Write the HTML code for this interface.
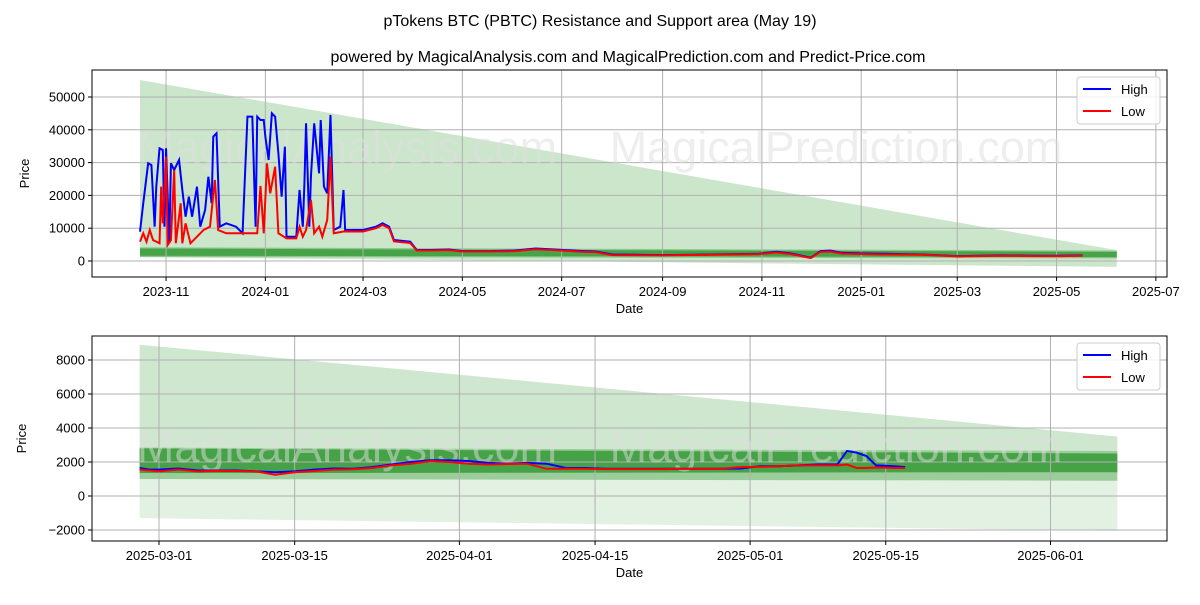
<!DOCTYPE html>
<html><head><meta charset="utf-8"><style>
body{margin:0;background:#fff;}
svg text{font-family:"Liberation Sans","DejaVu Sans",sans-serif;}
</style></head><body>
<svg id="c" width="1200" height="600" xmlns="http://www.w3.org/2000/svg">
<text x="600" y="26" font-size="16" text-anchor="middle">pTokens BTC (PBTC) Resistance and Support area (May 19)</text>
<text x="628" y="62" font-size="16" text-anchor="middle">powered by MagicalAnalysis.com and MagicalPrediction.com and Predict-Price.com</text>
</svg>
<script>
// ---- Top chart data (days since 2023-10-16) ----
const topDays=[0,2,5,7,9,10,12,14,15,16,18,19,21,24,26,28,30,32,35,37,40,42,44,45,47,49,53,59,63,66,69,71,72,74,76,77,79,81,83,85,87,89,90,96,98,100,101,102,104,105,107,110,111,113,115,117,119,123,125,126,137,145,149,153,156,166,170,178,190,198,215,230,243,255,273,280,290,320,351,380,391,400,412,418,424,431,445,457,480,502,530,550,565,579];
const topHigh=[8940,17590,29790,29270,10460,22660,34360,33840,10460,34360,5400,29790,27750,30800,21650,13510,19600,13510,22660,10460,15550,25700,17590,37900,38930,10460,11490,10460,8450,44000,44000,10460,44000,42990,42990,37900,30800,45030,44000,32840,19600,34850,7410,7410,21650,10460,23690,41980,10460,25700,41980,26740,42990,22660,20640,44520,9450,10460,21650,9450,9450,10460,11490,10460,6400,5890,3350,3350,3500,3000,3000,3200,3800,3500,3000,2900,2000,1800,2000,2200,2800,2300,1000,3000,3200,2500,2300,2200,2000,1500,1700,1600,1600,1700];
const topLowDays=[0,2,4,6,8,12,13,14,16,17,19,21,22,25,26,28,31,35,39,43,46,48,53,63,72,74,76,78,80,83,85,90,96,98,100,102,105,107,110,112,115,117,119,125,137,145,149,153,156,166,170,178,190,198,215,230,243,255,273,280,290,320,351,380,391,400,412,418,424,431,445,457,480,502,530,550,565,579];
const topLow=[5890,8450,5890,9450,6400,5400,22660,11490,31800,4880,6400,27750,5400,17590,5400,11490,5400,7410,9450,10460,24700,9450,8450,8450,8450,22870,8450,29790,20640,28750,8450,6910,6910,10460,7410,9450,18600,8450,10460,7410,12500,31800,8450,9000,9000,10000,11000,10000,6000,5500,3200,3200,3300,2900,2900,3000,3600,3300,2800,2700,1800,1700,1900,2100,2600,2100,900,2800,2900,2300,2100,2000,1900,1400,1600,1500,1500,1600];
const topTicks=[0,10000,20000,30000,40000,50000];
const topDateTicks=["2023-11","2024-01","2024-03","2024-05","2024-07","2024-09","2024-11","2025-01","2025-03","2025-05","2025-07"];
const topDateTickDays=[16,77,137,198,259,321,382,443,502,563,624];
// ---- Bottom chart data (days since 2025-03-01) ----
const botDays=[-2,-1,0,2,4,6,8,10,12,14,16,18,20,22,24,26,28,30,32,34,36,38,40,42,44,46,48,50,52,54,56,58,60,62,64,66,68,70,71,72,73,74,76,77];
const botHigh=[1650,1550,1550,1620,1500,1500,1500,1450,1400,1450,1550,1620,1600,1700,1850,2000,2100,2100,2050,1950,1900,1950,1900,1650,1650,1600,1600,1600,1600,1600,1600,1600,1620,1750,1750,1800,1850,1850,2650,2550,2350,1800,1750,1700];
const botLow=[1550,1500,1450,1560,1450,1480,1470,1450,1250,1400,1470,1550,1570,1650,1800,1900,2050,2000,1900,1850,1880,1900,1600,1600,1600,1580,1580,1580,1580,1600,1600,1600,1700,1720,1750,1800,1800,1800,1850,1650,1650,1680,1650,1650];
const botTicks=[-2000,0,2000,4000,6000,8000];
const botDateTicks=["2025-03-01","2025-03-15","2025-04-01","2025-04-15","2025-05-01","2025-05-15","2025-06-01"];
const botDateTickDays=[0,14,31,45,61,75,92];

const svg=document.getElementById('c');
const NS='http://www.w3.org/2000/svg';
function mk(tag,attrs,parent){const e=document.createElementNS(NS,tag);for(const k in attrs)e.setAttribute(k,attrs[k]);(parent||svg).appendChild(e);return e;}

function panel(cfg){
  const {x0,x1,y0,y1,xs,ys,name}=cfg;
  const g=mk('g',{});
  
  
  cfg.bands.forEach((b,i)=>{
    const pts=[[b.d0,b.t0],[b.d1,b.t1],[b.d1,b.b1],[b.d0,b.b0]].map(p=>xs(p[0])+','+ys(p[1])).join(' ');
    const p=mk('polygon',{points:pts,fill:b.fill},g);
    
    
  });
  cfg.yTicks.forEach(v=>{
    const y=ys(v);
    const l=mk('line',{x1:x0,x2:x1,y1:y,y2:y,stroke:'#b0b0b0','stroke-width':1},g);
    
    
    mk('line',{x1:x0-4,x2:x0,y1:y,y2:y,stroke:'#000'},g);
    const t=mk('text',{x:x0-7,y:y+4.5,'font-size':13,'text-anchor':'end'},g);
    t.textContent=v<0?'\u2212'+Math.abs(v):String(v);
    
    
  });
  cfg.xTicks.forEach((lab,i)=>{
    const x=xs(cfg.xTickDays[i]);
    const l=mk('line',{x1:x,x2:x,y1:y0,y2:y1,stroke:'#b0b0b0','stroke-width':1},g);
    
    
    mk('line',{x1:x,x2:x,y1:y1,y2:y1+4,stroke:'#000'},g);
    const t=mk('text',{x:x,y:y1+19,'font-size':13,'text-anchor':'middle'},g);
    t.textContent=lab;
    
    
  });
  const w1=mk('text',{x:347,y:cfg.wmY,'font-size':45,fill:'#ddd','fill-opacity':0.5,'text-anchor':'middle'},g);
  w1.textContent='MagicalAnalysis.com';
  
  
  const w2=mk('text',{x:836,y:cfg.wmY,'font-size':45,fill:'#ddd','fill-opacity':0.5,'text-anchor':'middle'},g);
  w2.textContent='MagicalPrediction.com';
  
  
  const hp=mk('polyline',{points:cfg.hd.map((d,i)=>xs(d)+','+ys(cfg.hv[i])).join(' '),fill:'none',stroke:'#0000ff','stroke-width':2},g);
  
  
  const n=Math.min(cfg.ld.length,cfg.lv.length);
  const lp=mk('polyline',{points:cfg.ld.slice(0,n).map((d,i)=>xs(d)+','+ys(cfg.lv[i])).join(' '),fill:'none',stroke:'#ff0000','stroke-width':2},g);
  
  
  mk('rect',{x:x0,y:y0,width:x1-x0,height:y1-y0,fill:'none',stroke:'#000','stroke-width':1},g);
  const xt=mk('text',{x:(x0+x1)/2,y:y1+36,'font-size':13,'text-anchor':'middle'},g);
  xt.textContent='Date';
  
  
  const yt=mk('text',{x:0,y:0,'font-size':13,'text-anchor':'middle',transform:'translate('+cfg.ytX+','+(y0+y1)/2+') rotate(-90)'},g);
  yt.textContent='Price';
  
  
  const lg=mk('g',{},g);
  
  
  const lx=x1-90,ly=y0+7;
  mk('rect',{x:lx,y:ly,width:83,height:47,rx:3,fill:'#fff','fill-opacity':0.85,stroke:'#ccc'},lg);
  [['High','#0000ff'],['Low','#ff0000']].forEach((e,i)=>{
    const ent=mk('g',{},lg);
    
    
    mk('line',{x1:lx+6,x2:lx+34,y1:ly+12+i*22,y2:ly+12+i*22,stroke:e[1],'stroke-width':2},ent);
    const t=mk('text',{x:lx+44,y:ly+17+i*22,'font-size':13},ent);
    t.textContent=e[0];
  });
}

panel({x0:92,x1:1167,y0:70,y1:277,name:'top-chart',
  xs:d=>140+d*1.628, ys:v=>261-v*0.00328,
  yTicks:topTicks,xTicks:topDateTicks,xTickDays:topDateTickDays,wmY:163,ytX:29,
  hd:topDays,hv:topHigh,ld:topLowDays,lv:topLow,
  bands:[
    {d0:0,d1:600,t0:55200,t1:3300,b0:1200,b1:-1800,fill:'rgba(0,128,0,0.2)'},
    {d0:0,d1:600,t0:4200,t1:3200,b0:1200,b1:800,fill:'rgba(0,128,0,0.3)'},
    {d0:0,d1:600,t0:3800,t1:2800,b0:1600,b1:1200,fill:'rgba(0,128,0,0.5)'}
  ]});
panel({x0:92,x1:1167,y0:336,y1:541,name:'bottom-chart',
  xs:d=>159+d*9.69, ys:v=>496-v*0.017,
  yTicks:botTicks,xTicks:botDateTicks,xTickDays:botDateTickDays,wmY:462,ytX:26,
  hd:botDays,hv:botHigh,ld:botDays,lv:botLow,
  bands:[
    {d0:-2,d1:98.9,t0:8900,t1:3500,b0:1000,b1:900,fill:'rgba(0,128,0,0.19)'},
    {d0:-2,d1:98.9,t0:1000,t1:900,b0:-1300,b1:-2050,fill:'rgba(0,128,0,0.11)'},
    {d0:-2,d1:98.9,t0:2850,t1:2650,b0:1000,b1:900,fill:'rgba(0,128,0,0.25)'},
    {d0:-2,d1:98.9,t0:2800,t1:2500,b0:1350,b1:1400,fill:'rgba(0,128,0,0.55)'}
  ]});
</script>
</body></html>
